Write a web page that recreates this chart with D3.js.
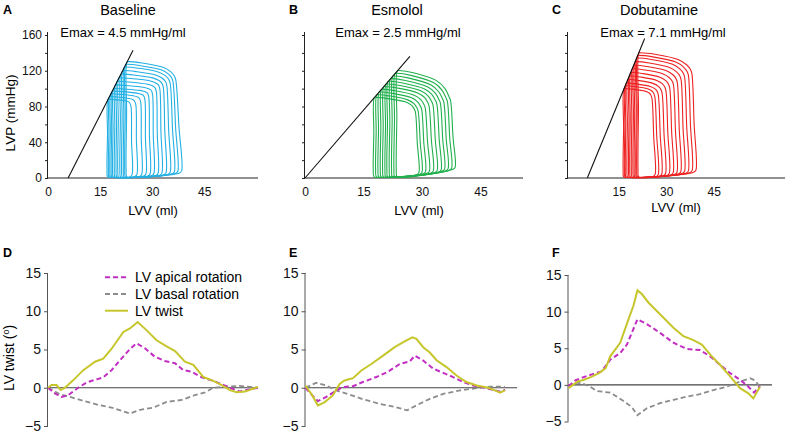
<!DOCTYPE html>
<html><head><meta charset="utf-8">
<script src="https://cdn.jsdelivr.net/npm/d3@7"></script>
<style>body{margin:0;background:#fff}svg{display:block;font-family:"Liberation Sans",Arial,sans-serif}</style>
</head><body>
<svg id="chart" width="787" height="436"></svg>
<script>
// ---------- DATA ----------
const pvLetters = ["A","B","C"];
const pvTitles = ["Baseline","Esmolol","Dobutamine"];
const emaxLabels = ["Emax = 4.5 mmHg/ml","Emax = 2.5 mmHg/ml","Emax = 7.1 mmHg/ml"];
const pvYTicks = [0,20,40,60,80,100,120,140,160];
const pvYLabels = [0,40,80,120,160];
const pvXTicksAB = [0,15,30,45];
const pvXTicksC = [15,30,45];
const pvColors = ["#23b0e4","#22b04e","#ee2222"];

// ESPVR lines [volume ml, pressure mmHg]
const A_espvr = [[5.8,0],[24.5,143]];
const B_espvr = [[0,0],[26.9,136]];
const C_espvr = [[5.1,0],[23.2,156]];

// PV loops (one entry per beat): end-systolic corner, opening corner, end-diastolic corner
const A_esv = [22.8,22.4,22.0,21.5,21.0,20.4,19.9,19.4,18.9,18.5,18.1,17.7,17.3];
const A_esp = [130,127,124,120,116,112,108,104,100,97,94,91,88];
const A_edvTop = [36.8,36.0,35.2,34.2,33.2,32.2,31.2,30.1,29.0,27.9,26.7,25.3,23.9];
const A_pOpen = [114,112,110,108,106,104,101,98,95,92,89,86,84];
const A_edv = [38.5,37.4,36.4,35.2,34.0,32.8,31.7,30.5,29.4,28.2,27.0,25.6,24.2];
const A_edp = [6,5.5,5,4.5,4,3.5,3,3,2.5,2.5,2,2,1.5];

const B_esv = [23.7,23.1,22.5,21.9,21.3,20.8,20.2,19.6,19.0,18.4,17.8];
const B_esp = [120,117,114,111,108,105,102,99,96,93,90];
const B_edvTop = [37.3,36.5,35.6,34.7,33.8,32.8,31.8,30.8,29.9,29.0,28.3];
const B_pOpen = [91,90,89,88,87,86,85,83,81,79,78];
const B_edv = [38.5,37.6,36.7,35.8,34.9,33.9,32.9,31.9,30.9,30.0,29.2];
const B_edp = [10,9,8.5,8,7,6.5,6,5.5,5,4.5,4];

const C_esv = [21.4,21.0,20.7,20.2,19.8,19.3,18.8,18.4,17.9,17.4,17.1,16.7];
const C_esp = [140,137,134,130,126,122,118,114,110,106,103,100];
const C_edvTop = [38.1,37.0,35.8,34.7,33.5,32.3,31.1,29.9,28.7,27.5,26.4,25.5];
const C_pOpen = [121,119,117,114,111,108,105,102,99,97,95,93];
const C_edv = [39.4,38.2,37.0,35.8,34.6,33.4,32.2,31.0,29.8,28.6,27.5,26.5];
const C_edp = [7,6.5,6,5.5,5,4.5,4,3.5,3,2.5,2,2];

// Twist panels: [time % of cycle, degrees]
const twLetters = ["D","E","F"];
const twYTicks = [15,10,5,0,-5];
const legendLabels = ["LV apical rotation","LV basal rotation","LV twist"];
const twColors = {apical:"#c22ec2", basal:"#8c8c8c", twist:"#c6c62c"};

const D_apical = [[0,0],[3.3,-0.75],[6.5,-1.2],[9.7,-0.95],[14.4,0],[18.4,0.7],[23.2,1.1],[26.3,1.35],[30.3,2.3],[34.3,3.6],[39,5.05],[42.2,5.8],[46.2,5.15],[50.9,4.05],[55.7,3.5],[60.5,3.2],[64.4,2.3],[68.4,2.1],[73.2,1.35],[78.7,0.9],[82.7,0.45],[87.5,-0.1],[91.4,-0.5],[94.6,-0.3],[100,0]];
const D_basal = [[0,0],[5.7,-0.85],[10.5,-1.2],[16.8,-1.7],[24,-2.25],[30.3,-2.6],[39,-3.35],[43.8,-2.9],[50.2,-2.6],[56.5,-1.85],[63.7,-1.6],[70,-0.95],[74.8,-0.6],[78.7,0],[85.1,0.15],[91.4,0.25],[96.2,0.1],[100,0]];
const D_twist = [[0,0],[1.7,0.35],[4.1,0.35],[6,-0.3],[8.1,0],[12.1,1.0],[16.8,2.3],[22.4,3.4],[26.3,3.8],[30.3,5.1],[35.9,7.3],[39,7.75],[42.7,8.6],[47,7.5],[51.7,6.2],[56.5,5.4],[60.5,4.8],[65.2,3.4],[69.2,3.0],[74,1.4],[78.7,0.9],[82.7,0.35],[86.7,-0.3],[89.8,-0.6],[93.8,-0.5],[97.8,-0.1],[100,0.1]];

const E_apical = [[0,0],[3.4,-1.0],[6.2,-1.75],[10.4,-1.2],[14.6,-0.5],[18.8,0.1],[23.8,0.2],[28.8,0.75],[35.5,1.4],[41.4,2.1],[47.2,3.1],[52.3,3.45],[54.8,4.2],[59,3.55],[64,2.5],[69,1.95],[74,1.4],[79,0.75],[84,0.3],[89.9,0],[95,-0.35],[98.3,-0.55],[100,-0.25]];
const E_basal = [[0,0],[5.4,0.65],[10.4,0.3],[15.4,-0.35],[22.1,-0.9],[28.8,-1.5],[37.2,-2.1],[44.7,-2.5],[50.9,-2.95],[55.6,-2.3],[62.3,-1.45],[69,-0.8],[77.4,-0.35],[85.8,-0.05],[92.5,0.15],[97.5,0.15],[100,0.1]];
const E_twist = [[0,0.3],[3.4,-1.0],[6.2,-2.3],[9.5,-1.9],[13.7,-1.0],[17.1,0.5],[19.6,0.95],[23.8,1.25],[28,2.25],[33,3.1],[38.9,4.2],[44.7,5.3],[49.7,6.05],[53.6,6.6],[55.6,6.4],[59,5.3],[62.3,4.6],[65.7,3.6],[70.7,2.7],[75.7,1.6],[80.7,0.75],[85.8,0.3],[91.6,0],[95,-0.35],[97.5,-0.65],[100,-0.35]];

const F_apical = [[0,-0.2],[3.5,0.6],[7.8,1.05],[13,1.5],[17.4,1.85],[21.8,3.45],[27,4.35],[30.5,5.5],[36,8.95],[40.9,8.3],[47.8,7.1],[54.8,5.75],[61.8,4.9],[68.7,4.75],[73.9,3.9],[79.1,2.75],[84.4,1.6],[89.6,0.7],[93.9,-0.25],[96.9,-1.05],[100,-0.15]];
const F_basal = [[0,-0.3],[4.4,0.3],[7.8,0.15],[11.3,-0.25],[14.8,-0.85],[21.8,-1.05],[27.9,-2.05],[33,-3.0],[36,-4.15],[40.9,-3.2],[47.8,-2.5],[54.8,-2.05],[61.8,-1.6],[68.7,-1.25],[75.7,-0.7],[82.6,-0.25],[89.6,0.45],[94.8,0.9],[97.4,0.6],[100,-0.3]];
const F_twist = [[0,-0.45],[4.6,0.45],[8.1,0.7],[11.6,1.05],[15.9,1.6],[19.4,2.3],[21.8,3.9],[27,5.75],[31.3,8.95],[33.9,10.8],[36,12.9],[38.3,12.4],[41.7,11.25],[47.8,9.65],[54.8,7.8],[60,6.65],[65.2,6.1],[69.6,5.5],[74.8,3.9],[79.1,2.75],[84.4,1.15],[89.6,-0.45],[93.9,-1.15],[96.5,-1.85],[100,-0.25]];

// ---------- DRAWING ----------
const svg = d3.select("#chart");
const axisCol = "#222";

const pvPanels = [
  {x0:48, x1:258, dom:[0,60.5], xt:pvXTicksAB, espvr:A_espvr, esv:A_esv, esp:A_esp, edvTop:A_edvTop, pOpen:A_pOpen, edv:A_edv, edp:A_edp, yLabels:true, tcx:128, ecx:123, lcx:153, lby:215},
  {x0:305, x1:523, dom:[0,55.9], xt:pvXTicksAB, espvr:B_espvr, esv:B_esv, esp:B_esp, edvTop:B_edvTop, pOpen:B_pOpen, edv:B_edv, edp:B_edp, yLabels:false, tcx:397, ecx:398, lcx:419, lby:215},
  {x0:568, x1:785, dom:[-1,67.5], xt:pvXTicksC, espvr:C_espvr, esv:C_esv, esp:C_esp, edvTop:C_edvTop, pOpen:C_pOpen, edv:C_edv, edp:C_edp, yLabels:false, tcx:659, ecx:663, lcx:676, lby:212}
];
const letterX = [3, 289, 552];

pvPanels.forEach((p, k) => {
  const g = svg.append("g");
  const x = d3.scaleLinear().domain(p.dom).range([p.x0, p.x1]);
  const y = d3.scaleLinear().domain([0,160]).range([178,35]);

  // axes
  const ya = d3.axisLeft(y).tickValues(pvYTicks).tickSize(3)
    .tickFormat(d => (p.yLabels && pvYLabels.includes(d)) ? d : "");
  const yg = g.append("g").attr("transform",`translate(${p.x0},0)`).call(ya);
  yg.select(".domain").attr("d", `M-0.5,32V178`);
  const xa = d3.axisBottom(x).tickValues(p.xt).tickSize(0).tickPadding(9);
  const xg = g.append("g").attr("transform",`translate(0,178)`).call(xa);
  xg.select(".domain").attr("d", `M${p.x0},0H${p.x1}`);
  [yg,xg].forEach(a => {
    a.selectAll("path,line").attr("stroke",axisCol).attr("stroke-width",1);
    a.selectAll("text").attr("font-size",12).attr("fill","#111")
      .attr("font-family","Liberation Sans, Arial, sans-serif");
  });

  // loops
  const line = d3.line().x(d => x(d[0])).y(d => y(d[1])).curve(d3.curveCatmullRomClosed.alpha(0.5));
  p.esv.forEach((v, i) => {
    const esv = v, esp = p.esp[i], et = p.edvTop[i], po = p.pOpen[i], edv = p.edv[i], edp = p.edp[i];
    const pts = [
      [esv, esp],
      [esv - 0.15, esp * 0.55],
      [esv - 0.3, 10],
      [esv - 0.1, 1.2],
      [esv + 1.2, 0.6],
      [edv - 0.6, edp - 0.3],
      [edv, edp + 2],
      [et + (edv - et) * 0.55, po * 0.5],
      [et, po - 4],
      [et - 0.4, po + 0.2],
      [esv + (et - esv) * 0.9, po + (esp - po) * 0.3],
      [esv + (et - esv) * 0.75, po + (esp - po) * 0.6],
      [esv + (et - esv) * 0.3, esp - (esp - po) * 0.08],
      [esv + 0.5, esp + 0.2]
    ];
    g.append("path").attr("d", line(pts)).attr("fill","none")
      .attr("stroke", pvColors[k]).attr("stroke-width",1.1);
  });

  // ESPVR
  g.append("line")
    .attr("x1", x(p.espvr[0][0])).attr("y1", y(p.espvr[0][1]))
    .attr("x2", x(p.espvr[1][0])).attr("y2", y(p.espvr[1][1]))
    .attr("stroke","#111").attr("stroke-width",1.1);

  // texts
  g.append("text").attr("x", letterX[k]).attr("y", 14).text(pvLetters[k])
    .attr("font-weight","bold").attr("font-size",12.5);
  g.append("text").attr("x", p.tcx).attr("y", 15).attr("text-anchor","middle")
    .attr("font-size",14.5).text(pvTitles[k]);
  g.append("text").attr("x", p.ecx).attr("y", 36.5).attr("text-anchor","middle")
    .attr("font-size",13).text(emaxLabels[k]);
  g.append("text").attr("x", p.lcx).attr("y", p.lby).attr("text-anchor","middle")
    .attr("font-size",13).text("LVV (ml)");
  if (k === 0) {
    g.append("text").attr("transform","translate(15,113) rotate(-90)")
      .attr("text-anchor","middle").attr("font-size",13.5).text("LVP (mmHg)");
  }
});

// ---------- Twist panels ----------
const twPanels = [
  {ax:48, tEnd:258, zEnd:258, yr:[426,273], lx:41, ap:D_apical, ba:D_basal, tw:D_twist, lt:3},
  {ax:305.5, tEnd:505, zEnd:517, yr:[426,273], lx:300, ap:E_apical, ba:E_basal, tw:E_twist, lt:289},
  {ax:568.5, tEnd:760, zEnd:772, yr:[421.5,275], lx:563, ap:F_apical, ba:F_basal, tw:F_twist, lt:552}
];

twPanels.forEach((p, k) => {
  const g = svg.append("g");
  const x = d3.scaleLinear().domain([0,100]).range([p.ax, p.tEnd]);
  const y = d3.scaleLinear().domain([-5,15]).range(p.yr);
  const ya = d3.axisLeft(y).tickValues(twYTicks).tickSize(4).tickPadding(3)
    .tickFormat(d => d < 0 ? "\u2212" + Math.abs(d) : d);
  const yg = g.append("g").attr("transform",`translate(${p.ax},0)`).call(ya);
  yg.selectAll("path,line").attr("stroke","#555").attr("stroke-width",1);
  yg.select(".domain").attr("d", `M-0.5,${y(15)}V${y(-5)}`);
  yg.selectAll("text").attr("font-size",14).attr("fill","#111")
    .attr("font-family","Liberation Sans, Arial, sans-serif");

  g.append("line").attr("x1", p.ax).attr("x2", p.zEnd).attr("y1", y(0)).attr("y2", y(0))
    .attr("stroke","#444").attr("stroke-width",1.2);

  const line = d3.line().x(d => x(d[0])).y(d => y(d[1]));
  g.append("path").attr("d", line(p.ba)).attr("fill","none")
    .attr("stroke", twColors.basal).attr("stroke-width",1.8).attr("stroke-dasharray","5,3");
  g.append("path").attr("d", line(p.ap)).attr("fill","none")
    .attr("stroke", twColors.apical).attr("stroke-width",2).attr("stroke-dasharray","5,3");
  g.append("path").attr("d", line(p.tw)).attr("fill","none")
    .attr("stroke", twColors.twist).attr("stroke-width",2);

  g.append("text").attr("x", p.lt).attr("y", 257).text(twLetters[k])
    .attr("font-weight","bold").attr("font-size",12.5);
});

// y label for D
svg.append("text").attr("transform","translate(14,358) rotate(-90)")
  .attr("text-anchor","middle").attr("font-size",14)
  .call(t => { t.append("tspan").text("LV twist ("); 
               t.append("tspan").text("o").attr("font-size",9).attr("dy",-5);
               t.append("tspan").text(")").attr("dy",5); });

// legend
const legY = [277.3, 294, 310.7];
const legStyle = [
  {c:twColors.apical, w:2, dash:"5,3"},
  {c:twColors.basal, w:1.8, dash:"5,3"},
  {c:twColors.twist, w:2, dash:null}
];
legendLabels.forEach((lab, i) => {
  const l = svg.append("line").attr("x1",105).attr("x2",128).attr("y1",legY[i]).attr("y2",legY[i])
    .attr("stroke", legStyle[i].c).attr("stroke-width", legStyle[i].w);
  if (legStyle[i].dash) l.attr("stroke-dasharray", legStyle[i].dash);
  svg.append("text").attr("x",135).attr("y",legY[i]+5).attr("font-size",14).text(lab);
});
</script>
</body></html>
